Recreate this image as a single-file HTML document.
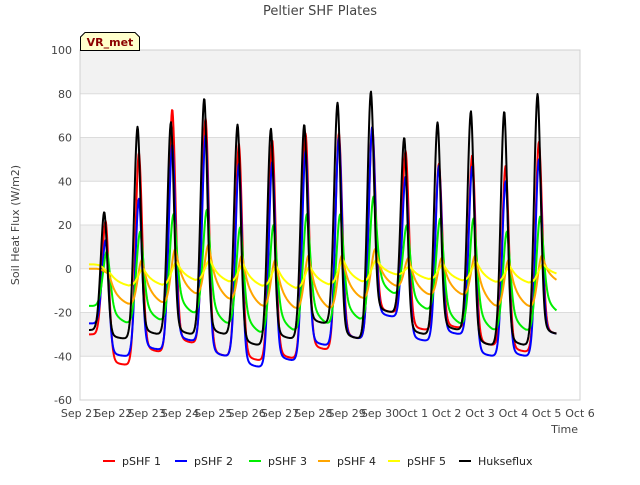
<!DOCTYPE html>
<html><head><meta charset="utf-8"><style>
body{margin:0;background:#fff;font-family:"Liberation Sans","DejaVu Sans",sans-serif}
svg text{font-family:"DejaVu Sans","Liberation Sans",sans-serif}
</style></head><body>
<svg id="c" width="640" height="480" viewBox="0 0 640 480" xmlns="http://www.w3.org/2000/svg">
<text x="320" y="15" text-anchor="middle" font-size="13" fill="#444">Peltier SHF Plates</text>
<g id="bands"></g><g id="grid"></g><g id="series"></g><g id="axes"></g>
<text x="19" y="225" text-anchor="middle" font-size="11" fill="#444" transform="rotate(-90 19 225)">Soil Heat Flux (W/m2)</text>
<text x="578" y="433" text-anchor="end" font-size="11" fill="#444">Time</text>
<g>
<path d="M80.5 50.5 V37 L85 32.5 H135 L139.5 37 V50.5 Z" fill="#ffffcc" stroke="#000"/>
<text x="110" y="46" text-anchor="middle" font-size="11" font-weight="bold" fill="#8b0000">VR_met</text></g>
<g id="legend"></g>
</svg>
<script>
const xTicks=["Sep 21","Sep 22","Sep 23","Sep 24","Sep 25","Sep 26","Sep 27","Sep 28","Sep 29","Sep 30","Oct 1","Oct 2","Oct 3","Oct 4","Oct 5","Oct 6"];
const yTicks=[-60,-40,-20,0,20,40,60,80,100];
const seriesNames=["pSHF 1","pSHF 2","pSHF 3","pSHF 4","pSHF 5","Hukseflux"];
const peak1=[22,53,73,69,57,59,62,62,65,54,48,52,47,58];
const trough1=[-30,-44,-38,-34,-40,-42,-41,-37,-32,-20,-28,-27,-35,-38,-30];
const peak2=[13,32,57,61,48,49,54,60,65,42,47,47,40,50];
const trough2=[-25,-40,-37,-33,-40,-45,-42,-35,-32,-22,-33,-30,-40,-40,-30];
const peak3=[8,17,25,27,19,20,25,25,33,20,23,23,17,24];
const trough3=[-17,-26,-25,-22,-27,-31,-30,-27,-25,-13,-20,-27,-30,-30,-22];
const peak4=[-2,4,9,11,6,4,6,6,9,5,5,6,4,6];
const trough4=[0,-18,-18,-14,-17,-20,-21,-21,-16,-10,-14,-14,-20,-20,-8];
const peak5=[-2,0,3,4,2,1,1,4,4,1,2,3,1,2];
const trough5=[2,-9,-9,-7,-8,-10,-11,-9,-8,-4,-6,-7,-8,-8,-4];
const peakH=[26,65,67,78,66,64,66,76,81,60,67,72,72,80];
const troughH=[-28,-32,-30,-30,-30,-35,-32,-25,-32,-20,-30,-28,-35,-35,-30];

const X0=80,X1=580,Y0=400,Y1=50;
const xs=d=>X0+(X1-X0)*d/15;
const ys=v=>Y0-(Y0-Y1)*(v+60)/160;
const NS="http://www.w3.org/2000/svg";
function mk(tag,attrs,parent){const e=document.createElementNS(NS,tag);for(const k in attrs)e.setAttribute(k,attrs[k]);parent.appendChild(e);return e;}
const bands=document.getElementById('bands'),grid=document.getElementById('grid'),axes=document.getElementById('axes');
[[80,100],[40,60],[0,20],[-40,-20]].forEach(b=>{
 const r=mk('rect',{x:X0,y:ys(b[1]),width:X1-X0,height:ys(b[0])-ys(b[1]),fill:'#f2f2f2'},bands);
 
 
});
yTicks.forEach(v=>{
 const l=mk('line',{x1:X0,x2:X1,y1:ys(v),y2:ys(v),stroke:'#dcdcdc','stroke-width':1},grid);
 
 
 const t=mk('text',{x:X0-8,y:ys(v)+4,'text-anchor':'end','font-size':11,fill:'#444'},axes);
 t.textContent=v;
 
 
});
mk('rect',{x:X0,y:Y1,width:X1-X0,height:Y0-Y1,fill:'none',stroke:'#d0d0d0'},axes);
xTicks.forEach((s,i)=>{
 const t=mk('text',{x:xs(i),y:Y0+17,'text-anchor':'middle','font-size':11,fill:'#444'},axes);
 t.textContent=s;
 
 
});
const cfg=[
 {p:peak1,t:trough1,c:'#ff0000',lag:0.04,wr:0.15,wf:0.14,a:0.85,tau:0.15},
 {p:peak2,t:trough2,c:'#0000ff',lag:0.04,wr:0.15,wf:0.13,a:0.85,tau:0.15},
 {p:peak3,t:trough3,c:'#00ee00',lag:0.08,wr:0.17,wf:0.14,a:0.55,tau:0.25},
 {p:peak4,t:trough4,c:'#ffa500',lag:0.13,wr:0.18,wf:0.12,a:0.1,tau:0.3},
 {p:peak5,t:trough5,c:'#ffff00',lag:0.17,wr:0.22,wf:0.12,a:0.05,tau:0.35},
 {p:peakH,t:troughH,c:'#000000',lag:0,wr:0.15,wf:0.13,a:0.85,tau:0.15}
];
function tail(s,k,t){
 const tp=k+0.73+s.lag,P=s.p[k],Tn=s.t[k+1],dt=t-tp;
 return Tn+(P-Tn)*(s.a*Math.exp(-Math.pow(dt/s.wf,2))+(1-s.a)*Math.exp(-dt/s.tau));
}
const sg=document.getElementById('series');
cfg.forEach((s,si)=>{
 const pts=[];const start=0.27,end=14.3,n=s.p.length;
 for(let t=start;t<=end+1e-9;t+=0.015){
  let k=Math.floor(t-s.lag-0.73+0.42);
  k=Math.max(0,Math.min(n-1,k));
  const tp=k+0.73+s.lag,P=s.p[k];
  let v;
  if(t<tp){
   const base=k>0?tail(s,k-1,t):s.t[0];
   v=base+(P-base)*Math.exp(-Math.pow((t-tp)/s.wr,2));
  } else v=tail(s,k,t);
  pts.push([t,v]);
 }
 const d='M'+pts.map(p=>xs(p[0]).toFixed(1)+' '+ys(p[1]).toFixed(1)).join(' L');
 const path=mk('path',{d:d,fill:'none',stroke:s.c,'stroke-width':2,'stroke-linejoin':'round'},sg);
 
 
});
const lg=document.getElementById('legend');
const lx=[103,175,249,318,388,459];
seriesNames.forEach((n,i)=>{
 const g=mk('g',{},lg);
 
 
 mk('line',{x1:lx[i],x2:lx[i]+12,y1:461,y2:461,stroke:cfg[i].c,'stroke-width':2},g);
 const t=mk('text',{x:lx[i]+19,y:465,'font-size':11,fill:'#222'},g);
 t.textContent=n;
});
</script>
</body></html>
